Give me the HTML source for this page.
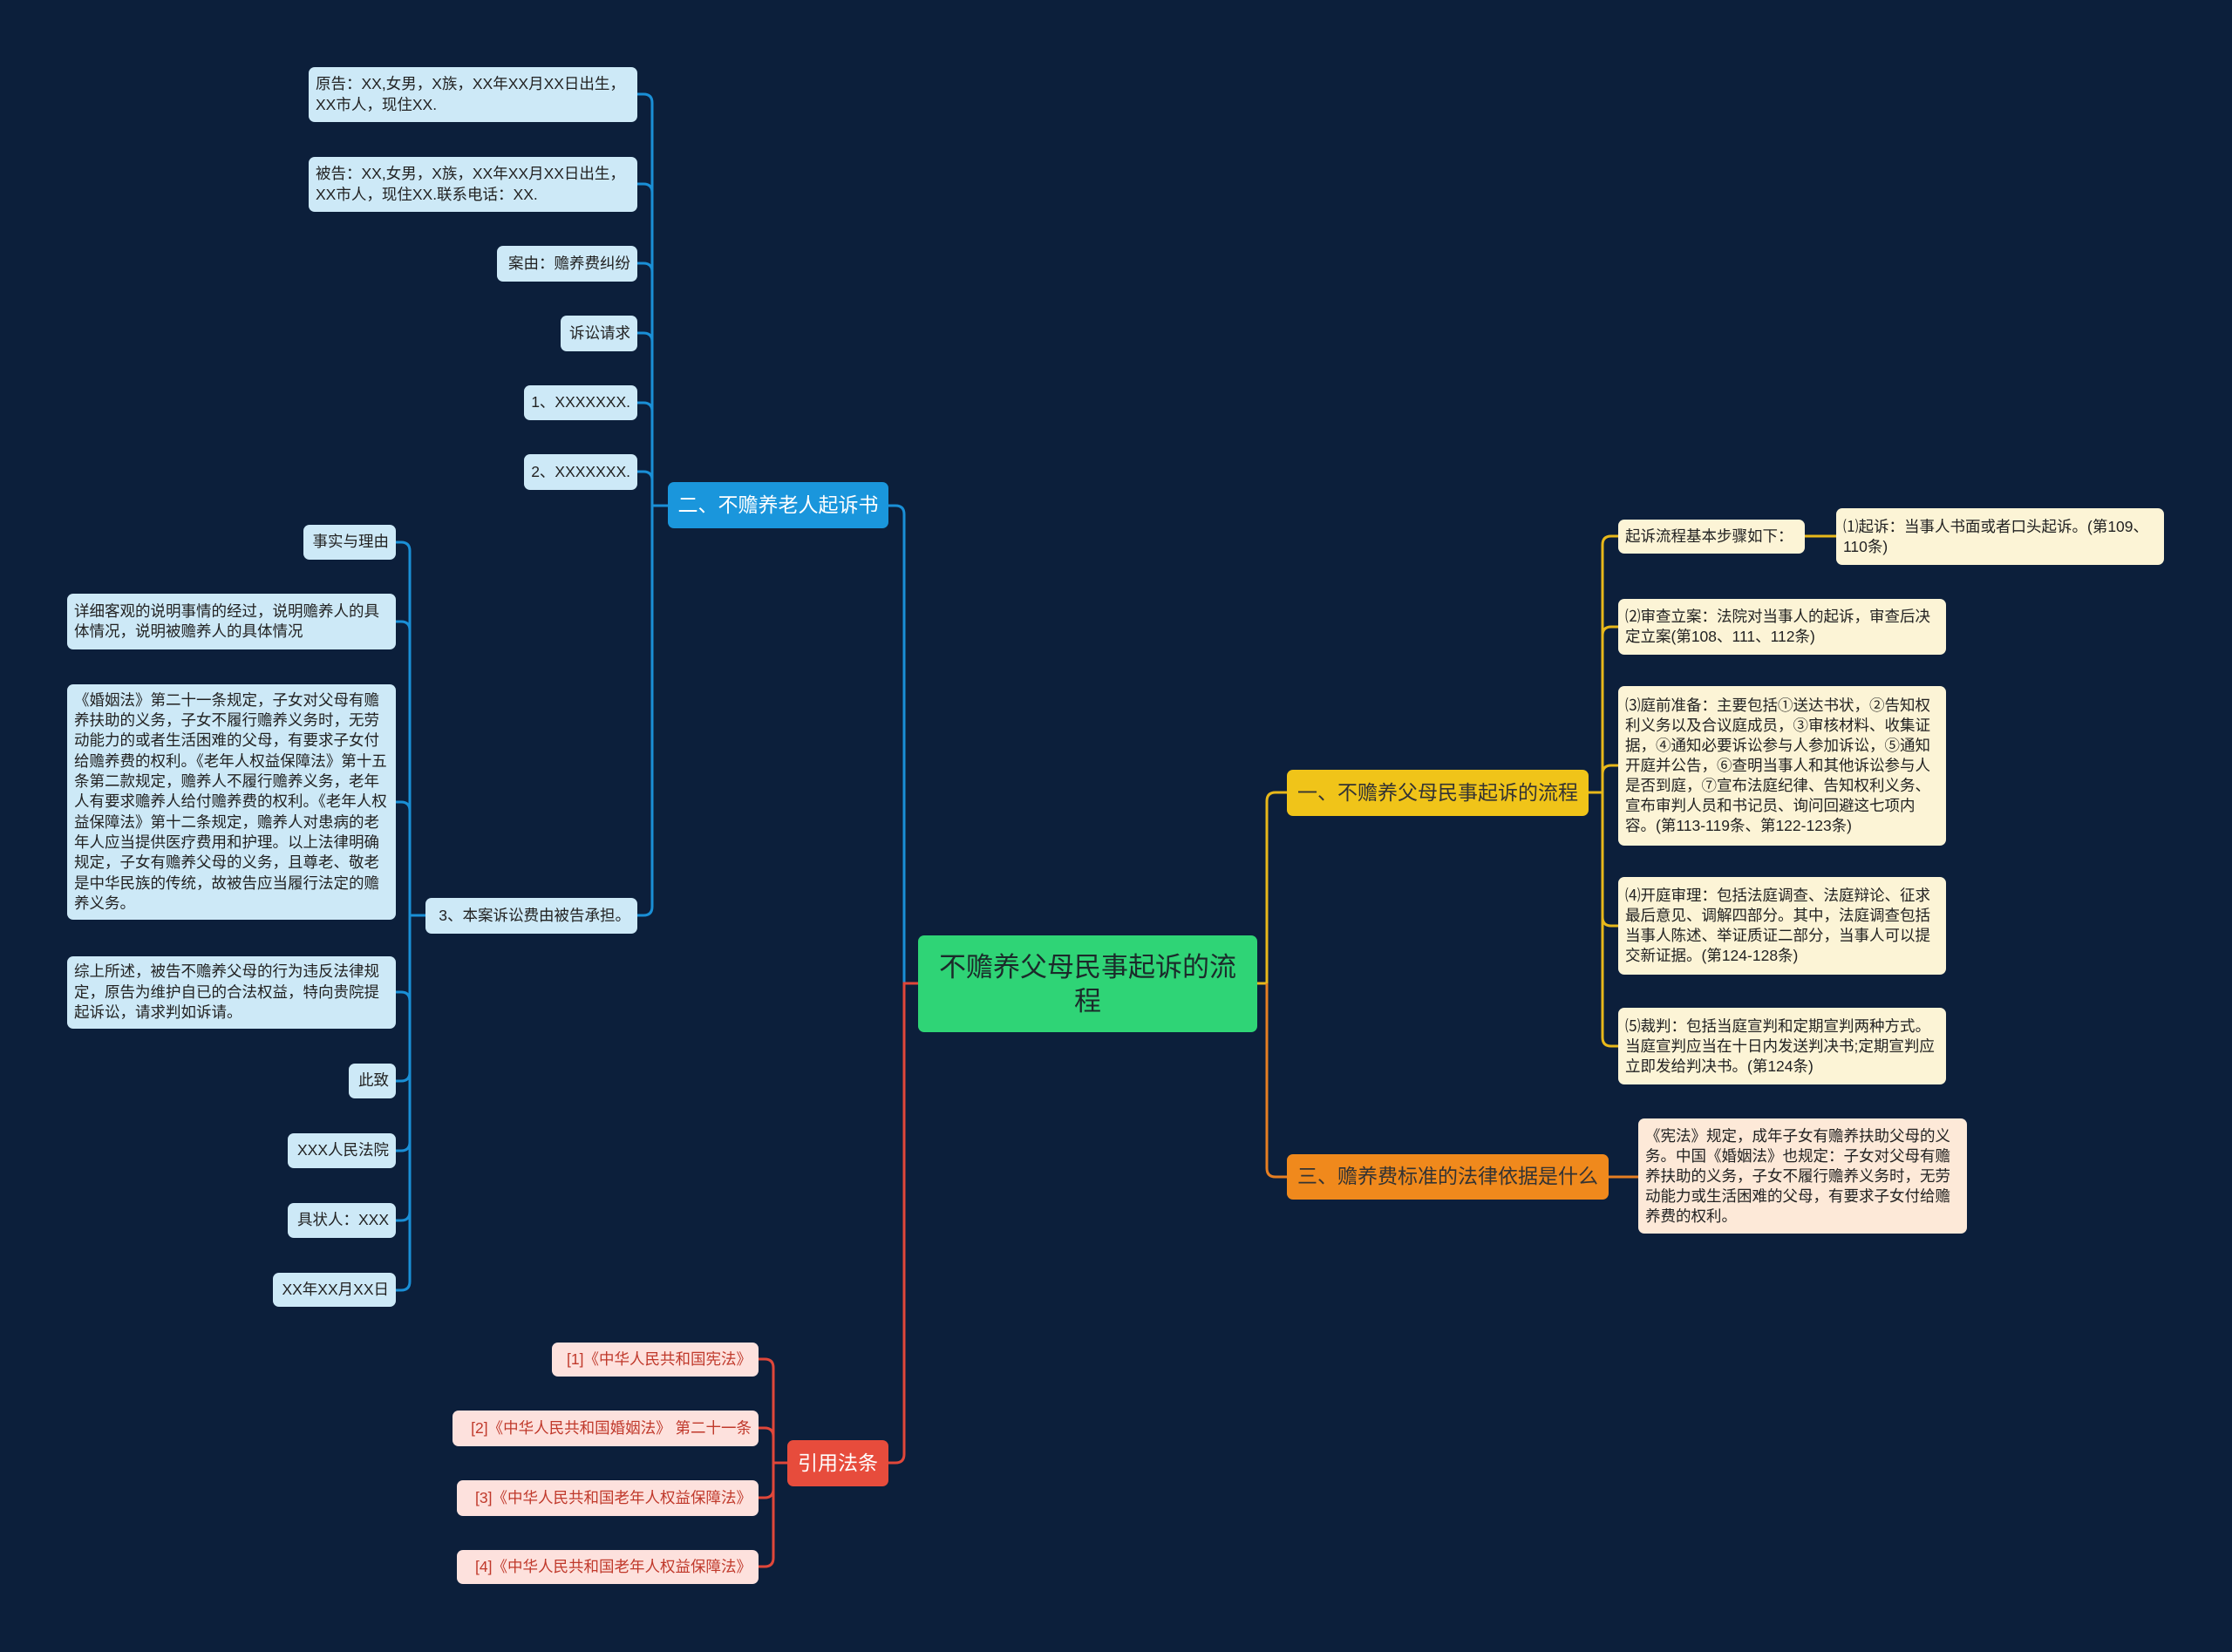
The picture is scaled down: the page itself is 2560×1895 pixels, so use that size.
<!DOCTYPE html>
<html><head><meta charset="utf-8"><style>
html,body{margin:0;padding:0}
body{width:2560px;height:1895px;background:#0c1f3b;position:relative;overflow:hidden;font-family:"Liberation Sans","Noto Sans CJK SC",sans-serif}
.n{position:absolute;box-sizing:border-box;border-radius:7px;padding:6px 8px;display:flex;align-items:center;line-height:23.5px;color:#222}
.lb{background:#cde9f7;font-size:17.5px}
.r{justify-content:flex-end;white-space:nowrap}
.cr{background:#fcf4d6;font-size:17.5px;line-height:23px}
.pk{background:#fde1dd;color:#c0392b;font-size:17.5px;justify-content:flex-end;white-space:nowrap}
.br{font-size:23px;justify-content:center;white-space:nowrap}
svg{position:absolute;left:0;top:0}
</style></head><body>
<svg width="2560" height="1895" fill="none" stroke-width="3">
<path d="M1053 1128 H1037 V590 Q1037 580 1027 580 H1019" stroke="#1a8fd6"/>
<path d="M766 580 H748" stroke="#1a8fd6"/>
<path d="M748 118 V1040" stroke="#1a8fd6"/>
<path d="M748 118 Q748 108 738 108 H731" stroke="#1a8fd6"/>
<path d="M748 221 Q748 211 738 211 H731" stroke="#1a8fd6"/>
<path d="M748 312 Q748 302 738 302 H731" stroke="#1a8fd6"/>
<path d="M748 392 Q748 382 738 382 H731" stroke="#1a8fd6"/>
<path d="M748 472 Q748 462 738 462 H731" stroke="#1a8fd6"/>
<path d="M748 551 Q748 541 738 541 H731" stroke="#1a8fd6"/>
<path d="M748 1040 Q748 1050 738 1050 H731" stroke="#1a8fd6"/>
<path d="M488 1050 H470" stroke="#1a8fd6"/>
<path d="M470 632 V1470" stroke="#1a8fd6"/>
<path d="M470 632 Q470 622 460 622 H454" stroke="#1a8fd6"/>
<path d="M470 723 Q470 713 460 713 H454" stroke="#1a8fd6"/>
<path d="M470 930 Q470 920 460 920 H454" stroke="#1a8fd6"/>
<path d="M470 1148 Q470 1138 460 1138 H454" stroke="#1a8fd6"/>
<path d="M470 1230 Q470 1240 460 1240 H454" stroke="#1a8fd6"/>
<path d="M470 1310 Q470 1320 460 1320 H454" stroke="#1a8fd6"/>
<path d="M470 1390 Q470 1400 460 1400 H454" stroke="#1a8fd6"/>
<path d="M470 1470 Q470 1480 460 1480 H454" stroke="#1a8fd6"/>
<path d="M1053 1128 H1037 V1668 Q1037 1678 1027 1678 H1019" stroke="#e0473a"/>
<path d="M903 1678 H887" stroke="#e0473a"/>
<path d="M887 1569 V1787" stroke="#e0473a"/>
<path d="M887 1569 Q887 1559 877 1559 H870" stroke="#e0473a"/>
<path d="M887 1648 Q887 1638 877 1638 H870" stroke="#e0473a"/>
<path d="M887 1708 Q887 1718 877 1718 H870" stroke="#e0473a"/>
<path d="M887 1787 Q887 1797 877 1797 H870" stroke="#e0473a"/>
<path d="M1442 1128 H1453 V919 Q1453 909 1463 909 H1476" stroke="#e8b81a"/>
<path d="M1822 909 H1838" stroke="#e8b81a"/>
<path d="M1838 625 V1190" stroke="#e8b81a"/>
<path d="M1838 625 Q1838 615 1848 615 H1856" stroke="#e8b81a"/>
<path d="M1838 729 Q1838 719 1848 719 H1856" stroke="#e8b81a"/>
<path d="M1838 888 Q1838 878 1848 878 H1856" stroke="#e8b81a"/>
<path d="M1838 1052 Q1838 1062 1848 1062 H1856" stroke="#e8b81a"/>
<path d="M1838 1190 Q1838 1200 1848 1200 H1856" stroke="#e8b81a"/>
<path d="M2070 615 H2106" stroke="#e8b81a"/>
<path d="M1453 1128 V1340 Q1453 1350 1463 1350 H1476" stroke="#e67e22"/>
<path d="M1845 1350 H1879" stroke="#e67e22"/>
</svg>

<div class="n" style="left:1053px;top:1073px;width:389px;height:111px;padding:0 22px;background:#2fd476;font-size:31px;line-height:39px;justify-content:center;text-align:center;color:#1b2a2a">不赡养父母民事起诉的流程</div>

<div class="n br" style="left:766px;top:553px;width:253px;height:53px;background:#1a96dc;color:#fff">二、不赡养老人起诉书</div>
<div class="n br" style="left:903px;top:1652px;width:116px;height:53px;background:#e74c3c;color:#fff">引用法条</div>
<div class="n br" style="left:1476px;top:883px;width:346px;height:53px;background:#f0c419;color:#333">一、不赡养父母民事起诉的流程</div>
<div class="n br" style="left:1476px;top:1324px;width:369px;height:52px;background:#f0891c;color:#333">三、赡养费标准的法律依据是什么</div>

<div class="n lb" style="left:354px;top:77px;width:377px;height:63px">原告：XX,女男，X族，XX年XX月XX日出生，XX市人，现住XX.</div>
<div class="n lb" style="left:354px;top:180px;width:377px;height:63px">被告：XX,女男，X族，XX年XX月XX日出生，XX市人，现住XX.联系电话：XX.</div>
<div class="n lb r" style="left:570px;top:282px;width:161px;height:41px">案由：赡养费纠纷</div>
<div class="n lb r" style="left:643px;top:362px;width:88px;height:41px">诉讼请求</div>
<div class="n lb r" style="left:601px;top:442px;width:130px;height:40px">1、XXXXXXX.</div>
<div class="n lb r" style="left:601px;top:521px;width:130px;height:41px">2、XXXXXXX.</div>
<div class="n lb r" style="left:488px;top:1030px;width:243px;height:41px">3、本案诉讼费由被告承担。</div>

<div class="n lb r" style="left:348px;top:602px;width:106px;height:40px">事实与理由</div>
<div class="n lb" style="left:77px;top:681px;width:377px;height:64px">详细客观的说明事情的经过，说明赡养人的具体情况，说明被赡养人的具体情况</div>
<div class="n lb" style="left:77px;top:785px;width:377px;height:270px;line-height:23.3px">《婚姻法》第二十一条规定，子女对父母有赡养扶助的义务，子女不履行赡养义务时，无劳动能力的或者生活困难的父母，有要求子女付给赡养费的权利。《老年人权益保障法》第十五条第二款规定，赡养人不履行赡养义务，老年人有要求赡养人给付赡养费的权利。《老年人权益保障法》第十二条规定，赡养人对患病的老年人应当提供医疗费用和护理。以上法律明确规定，子女有赡养父母的义务，且尊老、敬老是中华民族的传统，故被告应当履行法定的赡养义务。</div>
<div class="n lb" style="left:77px;top:1097px;width:377px;height:83px">综上所述，被告不赡养父母的行为违反法律规定，原告为维护自已的合法权益，特向贵院提起诉讼，请求判如诉请。</div>
<div class="n lb r" style="left:400px;top:1220px;width:54px;height:40px">此致</div>
<div class="n lb r" style="left:330px;top:1300px;width:124px;height:40px">XXX人民法院</div>
<div class="n lb r" style="left:330px;top:1380px;width:124px;height:40px">具状人：XXX</div>
<div class="n lb r" style="left:313px;top:1460px;width:141px;height:39px">XX年XX月XX日</div>

<div class="n pk" style="left:633px;top:1540px;width:237px;height:39px">[1]《中华人民共和国宪法》</div>
<div class="n pk" style="left:519px;top:1618px;width:351px;height:41px">[2]《中华人民共和国婚姻法》 第二十一条</div>
<div class="n pk" style="left:524px;top:1698px;width:346px;height:41px">[3]《中华人民共和国老年人权益保障法》</div>
<div class="n pk" style="left:524px;top:1778px;width:346px;height:39px">[4]《中华人民共和国老年人权益保障法》</div>

<div class="n cr" style="left:1856px;top:596px;width:214px;height:39px;white-space:nowrap">起诉流程基本步骤如下：</div>
<div class="n cr" style="left:2106px;top:583px;width:376px;height:65px">⑴起诉：当事人书面或者口头起诉。(第109、110条)</div>
<div class="n cr" style="left:1856px;top:687px;width:376px;height:64px">⑵审查立案：法院对当事人的起诉，审查后决定立案(第108、111、112条)</div>
<div class="n cr" style="left:1856px;top:787px;width:376px;height:183px">⑶庭前准备：主要包括①送达书状，②告知权利义务以及合议庭成员，③审核材料、收集证据，④通知必要诉讼参与人参加诉讼，⑤通知开庭并公告，⑥查明当事人和其他诉讼参与人是否到庭，⑦宣布法庭纪律、告知权利义务、宣布审判人员和书记员、询问回避这七项内容。(第113-119条、第122-123条)</div>
<div class="n cr" style="left:1856px;top:1006px;width:376px;height:112px">⑷开庭审理：包括法庭调查、法庭辩论、征求最后意见、调解四部分。其中，法庭调查包括当事人陈述、举证质证二部分，当事人可以提交新证据。(第124-128条)</div>
<div class="n cr" style="left:1856px;top:1156px;width:376px;height:88px">⑸裁判：包括当庭宣判和定期宣判两种方式。当庭宣判应当在十日内发送判决书;定期宣判应立即发给判决书。(第124条)</div>
<div class="n cr" style="left:1879px;top:1283px;width:377px;height:132px;background:#fde9d8">《宪法》规定，成年子女有赡养扶助父母的义务。中国《婚姻法》也规定：子女对父母有赡养扶助的义务，子女不履行赡养义务时，无劳动能力或生活困难的父母，有要求子女付给赡养费的权利。</div>
</body></html>
